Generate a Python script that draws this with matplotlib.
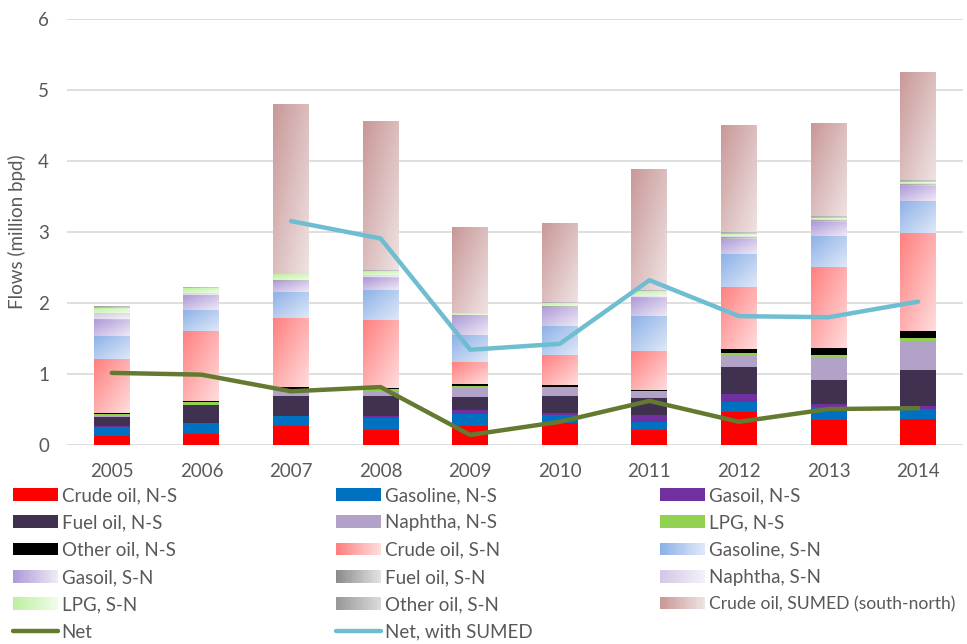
import numpy as np
import matplotlib
matplotlib.use("Agg")
import matplotlib.pyplot as plt
from matplotlib.patches import Patch, Rectangle
from matplotlib.lines import Line2D
from matplotlib.legend_handler import HandlerBase
from matplotlib.colors import to_rgb

years = ["2005", "2006", "2007", "2008", "2009", "2010", "2011", "2012", "2013", "2014"]

# north -> south
crude_ns = [0.125, 0.153, 0.266, 0.21, 0.266, 0.30, 0.21, 0.464, 0.35, 0.36]
gasoline_ns = [0.12, 0.15, 0.137, 0.17, 0.165, 0.117, 0.11, 0.137, 0.176, 0.14]
gasoil_ns = [0.02, 0.005, 0.005, 0.015, 0.055, 0.028, 0.10, 0.114, 0.047, 0.045]
fuel_ns = [0.12, 0.255, 0.28, 0.29, 0.185, 0.24, 0.24, 0.38, 0.34, 0.51]
naphtha_ns = [0.01, 0.0, 0.094, 0.075, 0.13, 0.12, 0.08, 0.165, 0.326, 0.40]
lpg_ns = [0.04, 0.03, 0.005, 0.022, 0.025, 0.01, 0.02, 0.033, 0.03, 0.05]
other_ns = [0.015, 0.02, 0.03, 0.02, 0.03, 0.02, 0.015, 0.047, 0.085, 0.10]

# south -> north
crude_sn = [0.75, 0.99, 0.96, 0.95, 0.31, 0.42, 0.54, 0.887, 1.147, 1.372]
gasoline_sn = [0.325, 0.297, 0.368, 0.425, 0.38, 0.41, 0.49, 0.453, 0.438, 0.453]
gasoil_sn = [0.23, 0.205, 0.16, 0.165, 0.27, 0.275, 0.26, 0.22, 0.195, 0.216]
fuel_sn = [0.015, 0.01, 0.01, 0.02, 0.005, 0.01, 0.015, 0.03, 0.035, 0.03]
naphtha_sn = [0.08, 0.02, 0.01, 0.03, 0.01, 0.01, 0.015, 0.005, 0.005, 0.005]
lpg_sn = [0.08, 0.07, 0.08, 0.055, 0.02, 0.04, 0.07, 0.03, 0.02, 0.02]
other_sn = [0.02, 0.015, 0.005, 0.01, 0.005, 0.01, 0.01, 0.03, 0.035, 0.03]
sumed = [0, 0, 2.39, 2.11, 1.21, 1.12, 1.71, 1.515, 1.31, 1.528]

net = [1.01, 0.985, 0.75, 0.81, 0.135, 0.32, 0.615, 0.32, 0.50, 0.512]
net_sumed = [np.nan, np.nan, 3.15, 2.905, 1.336, 1.42, 2.317, 1.81, 1.795, 2.015]

# (label, values, solid colour or (dark, light) gradient)
series = [
    ("Crude oil, N-S", crude_ns, "#FF0000"),
    ("Gasoline, N-S", gasoline_ns, "#0070C0"),
    ("Gasoil, N-S", gasoil_ns, "#7030A0"),
    ("Fuel oil, N-S", fuel_ns, "#403151"),
    ("Naphtha, N-S", naphtha_ns, "#B2A2C7"),
    ("LPG, N-S", lpg_ns, "#92D050"),
    ("Other oil, N-S", other_ns, "#000000"),
    ("Crude oil, S-N", crude_sn, ("#FF8080", "#FFDCDC")),
    ("Gasoline, S-N", gasoline_sn, ("#8DB1E8", "#DFE8F7")),
    ("Gasoil, S-N", gasoil_sn, ("#AE9AD8", "#EEE9F5")),
    ("Fuel oil, S-N", fuel_sn, ("#8C8C8C", "#E2E2E2")),
    ("Naphtha, S-N", naphtha_sn, ("#D3C8E6", "#F3F0F8")),
    ("LPG, S-N", lpg_sn, ("#BDF0A0", "#EFFCE7")),
    ("Other oil, S-N", other_sn, ("#999999", "#DADADA")),
    ("Crude oil, SUMED (south-north)", sumed, ("#C99898", "#EFE2E2")),
]

plt.rcParams["font.family"] = ["Lato", "DejaVu Sans"]
plt.rcParams["font.size"] = 13.5
txt_color = "#595959"


def grad_img(c0, c1, n=32):
    u = np.linspace(0, 1, n)
    uu, vv = np.meshgrid(u, u)
    t = (uu + vv) / 2  # top-left dark -> bottom-right light (row 0 is top)
    a, b = np.array(to_rgb(c0)), np.array(to_rgb(c1))
    return a[None, None, :] * (1 - t[..., None]) + b[None, None, :] * t[..., None]


class GradHandler(HandlerBase):
    def __init__(self, c0, c1):
        super().__init__()
        self.c0, self.c1 = np.array(to_rgb(c0)), np.array(to_rgb(c1))

    def create_artists(self, legend, orig_handle, xdescent, ydescent, width, height, fontsize, trans):
        n = 20
        arts = []
        for i in range(n):
            t = i / (n - 1)
            col = self.c0 * (1 - t) + self.c1 * t
            arts.append(Rectangle((-xdescent + width * i / n, -ydescent), width / n * 1.1, height,
                                  facecolor=col, edgecolor="none", transform=trans))
        return arts


fig = plt.figure(figsize=(9.67, 6.44), dpi=100)
ax = fig.add_axes([67 / 967, (644 - 444.5) / 644, (963 - 67) / 967, (444.5 - 19) / 644])

x = np.arange(len(years))
width = 0.40
bottom = np.zeros(len(years))
handles = []
hmap = {}
for label, vals, col in series:
    vals = np.array(vals)
    if isinstance(col, str):
        ax.bar(x, vals, width, bottom=bottom, color=col, edgecolor="none", zorder=2)
        h = Patch(facecolor=col, label=label)
    else:
        bars = ax.bar(x, vals, width, bottom=bottom, color="none", edgecolor="none", zorder=2)
        img = grad_img(*col)
        for b, v in zip(bars, vals):
            if v <= 0:
                continue
            x0, y0 = b.get_x(), b.get_y()
            im = ax.imshow(img, extent=[x0, x0 + b.get_width(), y0, y0 + v],
                           aspect="auto", interpolation="bilinear", zorder=2)
            im.set_clip_path(b)
        h = Patch(facecolor=col[0], label=label)
        hmap[h] = GradHandler(*col)
    handles.append(h)
    bottom = bottom + vals

ax.plot(x, net, color="#647A31", lw=3.2, zorder=4, solid_capstyle="round", solid_joinstyle="round")
ax.plot(x, net_sumed, color="#6FBDD1", lw=3.2, zorder=4, solid_capstyle="round", solid_joinstyle="round")
handles.append(Line2D([], [], color="#647A31", lw=3.2, solid_capstyle="round", label="Net"))
handles.append(Line2D([], [], color="#6FBDD1", lw=3.2, solid_capstyle="round", label="Net, with SUMED"))

ax.set_xlim(-0.5, len(years) - 0.5)
ax.set_ylim(0, 6)
ax.set_xticks(x)
ax.set_xticklabels(years)
ax.set_yticks(range(0, 7))
ax.yaxis.grid(True, color="#D9D9D9", lw=1.2, zorder=0)
ax.set_axisbelow(True)
for s in ax.spines.values():
    s.set_visible(False)
ax.tick_params(axis="both", length=0, colors=txt_color, labelsize=13.5)
ax.tick_params(axis="y", pad=13)
ax.tick_params(axis="x", pad=13)
ax.set_ylabel("Flows (million bpd)", color=txt_color, fontsize=13.5)
ax.yaxis.set_label_coords(-0.046, 0.5)

# legend: three columns laid out row by row
col_x = [13 / 967, 336 / 967, 660 / 967]
for c in range(3):
    hs = handles[c::3]
    leg = fig.legend(handles=hs, loc="upper left", bbox_to_anchor=(col_x[c], (644 - 487) / 644),
                     frameon=False, borderpad=0, borderaxespad=0, handlelength=2.4, handleheight=0.65,
                     handletextpad=0.2, labelspacing=0.55, fontsize=13.5, labelcolor=txt_color,
                     handler_map=hmap)
    for t in leg.get_texts():
        if "SUMED (" in t.get_text():
            t.set_fontsize(12.6)

fig.savefig("out.png", dpi=100)
